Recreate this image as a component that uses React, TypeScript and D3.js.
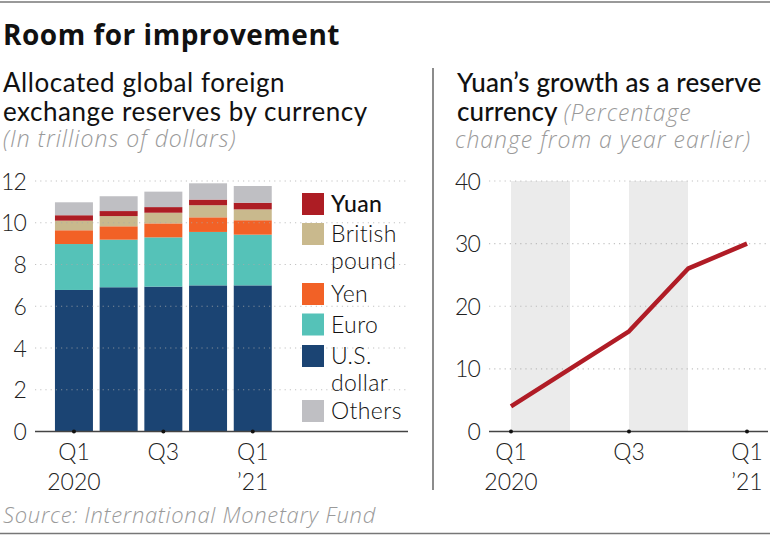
import React from "react";
import * as d3 from "d3";

const quarters = ["Q1 2020", "Q2 2020", "Q3 2020", "Q4 2020", "Q1 2021"];
const usDollar = [6.78, 6.91, 6.94, 7.0, 7.0];
const euro = [2.2, 2.28, 2.36, 2.56, 2.43];
const yen = [0.66, 0.64, 0.67, 0.7, 0.69];
const britishPound = [0.46, 0.49, 0.51, 0.58, 0.52];
const yuan = [0.26, 0.24, 0.27, 0.27, 0.32];
const others = [0.62, 0.71, 0.74, 0.78, 0.8];
const yuanGrowth = [4, 10, 16, 26, 30];

const leftTicks = [0, 2, 4, 6, 8, 10, 12];
const rightTicks = [0, 10, 20, 30, 40];
const xTickLabels = [
  { q: "Q1 2020", top: "Q1", bottom: "2020" },
  { q: "Q3 2020", top: "Q3", bottom: "" },
  { q: "Q1 2021", top: "Q1", bottom: "\u201921" },
];

const keys = ["usd", "euro", "yen", "pound", "yuan", "others"];
const colors: Record<string, string> = {
  usd: "#1b4473",
  euro: "#55c2b8",
  yen: "#f26126",
  pound: "#c9b98d",
  yuan: "#ad1d24",
  others: "#bfbfc3",
};
const legendItems = [
  { key: "yuan", lines: ["Yuan"] },
  { key: "pound", lines: ["British", "pound"] },
  { key: "yen", lines: ["Yen"] },
  { key: "euro", lines: ["Euro"] },
  { key: "usd", lines: ["U.S.", "dollar"] },
  { key: "others", lines: ["Others"] },
];

const FONT = "Lato, 'Noto Sans', sans-serif";
const WIDE = "'Open Sans', 'Noto Sans', sans-serif";

export default function App() {
  const rows = quarters.map((q, i) => ({
    q,
    usd: usDollar[i],
    euro: euro[i],
    yen: yen[i],
    pound: britishPound[i],
    yuan: yuan[i],
    others: others[i],
  }));
  const series = d3.stack<any>().keys(keys)(rows);

  const xL = d3
    .scaleBand<string>()
    .domain(quarters)
    .range([51.6, 275.1])
    .paddingInner(0.15)
    .paddingOuter(0.075);
  const yL = d3.scaleLinear().domain([0, 12]).range([431.5, 181]);

  const xR = d3.scalePoint<string>().domain(quarters).range([511, 747]);
  const yR = d3.scaleLinear().domain([0, 40]).range([431.5, 181]);
  const line = d3
    .line<number>()
    .x((_, i) => xR(quarters[i]) as number)
    .y((d) => yR(d));

  const legendY = [193, 223, 283, 313.5, 345, 400];

  const shadeBands = [
    [quarters[0], quarters[1]],
    [quarters[2], quarters[3]],
  ];

  const tickStyle = { fontSize: 23, fontWeight: 300, fill: "#222" } as const;
  const italic = {
    fontSize: 23,
    fontStyle: "italic",
    fill: "#9a9a9a",
    fontWeight: 300,
    fontFamily: WIDE,
    letterSpacing: 1,
  } as const;

  return (
    <svg width={770} height={537} style={{ position: "absolute", left: 0, top: 0, fontFamily: FONT }}>
      <rect x={0} y={0} width={770} height={537} fill="#fff" />
      <line x1={0} x2={770} y1={2} y2={2} stroke="#777" strokeWidth={1.5} />
      <line x1={0} x2={770} y1={533.5} y2={533.5} stroke="#777" strokeWidth={1.5} />

      <text x={3} y={45} fontSize={28} fontWeight={700} fill="#111" fontFamily={WIDE} letterSpacing={0.5}>
        Room for improvement
      </text>

      {/* left headings */}
      <text x={3} y={92} fontSize={26} fill="#111" letterSpacing={0.55}>Allocated global foreign</text>
      <text x={3} y={121} fontSize={26} fill="#111" letterSpacing={0.55}>exchange reserves by currency</text>
      <text x={3} y={147} {...italic}>
        (In trillions of dollars)
      </text>

      {/* right headings */}
      <line x1={433} x2={433} y1={68} y2={490} stroke="#666" strokeWidth={1.5} />
      <text x={457} y={92} fontSize={26} fontWeight={500} fill="#111" letterSpacing={0.1}>
        Yuan’s growth as a reserve
      </text>
      <text x={457} y={121} fontSize={26} fontWeight={500} fill="#111" letterSpacing={0.1}>
        currency{" "}
        <tspan {...italic}>(Percentage</tspan>
      </text>
      <text x={455} y={148} {...italic}>
        change from a year earlier)
      </text>

      {/* LEFT CHART */}
      {series.map((s) => (
        <g key={s.key} fill={colors[s.key]}>
          {s.map((d, i) => (
            <rect
              key={i}
              x={xL(quarters[i])}
              width={xL.bandwidth()}
              y={yL(d[1])}
              height={yL(d[0]) - yL(d[1])}
            />
          ))}
        </g>
      ))}
      {leftTicks.map((t) => (
        <g key={t}>
          {t > 0 && (
            <line
              x1={35}
              x2={408}
              y1={yL(t)}
              y2={yL(t)}
              stroke="#aaa"
              strokeOpacity={0.7}
              strokeWidth={1.2}
              strokeDasharray="1.2 4"
            />
          )}
          <text x={26} y={yL(t) + 8.5} textAnchor="end" letterSpacing={-0.8} {...tickStyle}>
            {t}
          </text>
        </g>
      ))}
      <line x1={35} x2={408} y1={yL(0)} y2={yL(0)} stroke="#444" strokeWidth={1.5} />
      {xTickLabels.map((l) => {
        const cx = (xL(l.q) as number) + xL.bandwidth() / 2;
        return (
          <g key={l.q + "L"}>
            <circle cx={cx} cy={yL(0)} r={2} fill="#111" />
            <text x={cx} y={460} textAnchor="middle" {...tickStyle}>
              {l.top}
            </text>
            <text x={cx} y={490} textAnchor="middle" {...tickStyle}>
              {l.bottom}
            </text>
          </g>
        );
      })}

      {/* legend */}
      {legendItems.map((it, i) => (
        <g key={it.key}>
          <rect x={302} y={legendY[i]} width={22} height={22} fill={colors[it.key]} />
          {it.lines.map((ln, j) => (
            <text
              key={j}
              x={331}
              y={legendY[i] + 19 + j * 27}
              fontSize={23}
              fontWeight={it.key === "yuan" ? 500 : 300}
              letterSpacing={0.4}
              fill="#111"
            >
              {ln}
            </text>
          ))}
        </g>
      ))}

      {/* RIGHT CHART */}
      {shadeBands.map(([a, b], i) => (
        <rect
          key={i}
          x={xR(a)}
          width={(xR(b) as number) - (xR(a) as number)}
          y={yR(40)}
          height={yR(0) - yR(40)}
          fill="#ebebeb"
        />
      ))}
      {rightTicks.map((t) => (
        <g key={t}>
          {t > 0 && (
            <line
              x1={489}
              x2={768}
              y1={yR(t)}
              y2={yR(t)}
              stroke="#aaa"
              strokeOpacity={0.7}
              strokeWidth={1.2}
              strokeDasharray="1.2 4"
            />
          )}
          <text x={480} y={yR(t) + 8.5} textAnchor="end" letterSpacing={-0.8} {...tickStyle}>
            {t}
          </text>
        </g>
      ))}
      <line x1={489} x2={768} y1={yR(0)} y2={yR(0)} stroke="#444" strokeWidth={1.5} />
      <path d={line(yuanGrowth) || ""} fill="none" stroke="#b01c26" strokeWidth={4.5} strokeLinejoin="round" />
      {xTickLabels.map((l) => {
        const cx = xR(l.q) as number;
        return (
          <g key={l.q + "R"}>
            <circle cx={cx} cy={yR(0)} r={2} fill="#111" />
            <text x={cx} y={460} textAnchor="middle" {...tickStyle}>
              {l.top}
            </text>
            <text x={cx} y={490} textAnchor="middle" {...tickStyle}>
              {l.bottom}
            </text>
          </g>
        );
      })}

      <text x={3} y={523} {...italic} fontSize={22} letterSpacing={0.7}>
        Source: International Monetary Fund
      </text>
    </svg>
  );
}
